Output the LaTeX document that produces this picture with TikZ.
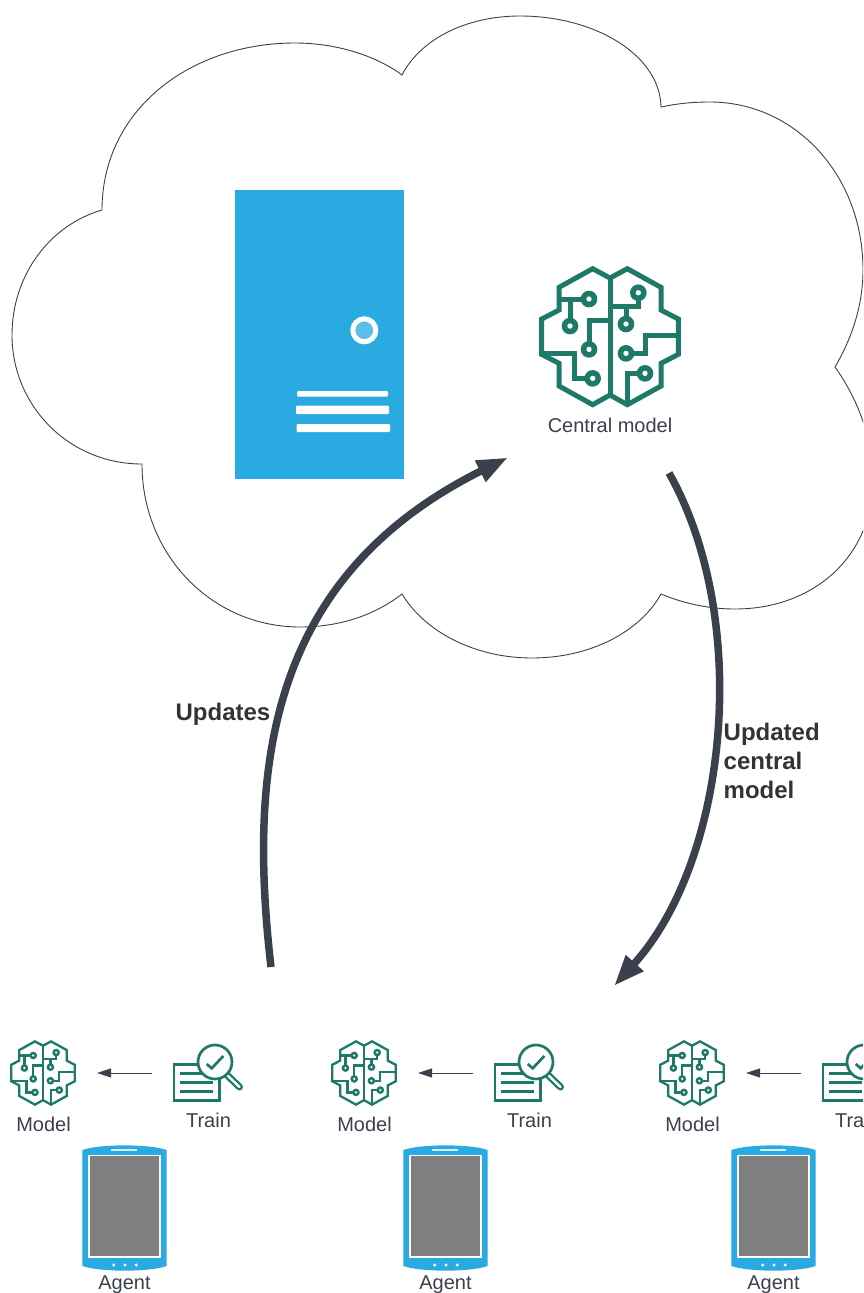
\documentclass[tikz,border=0pt]{standalone}
\usepackage{fontspec}
\setmainfont{Liberation Sans}
\usetikzlibrary{arrows.meta}
\definecolor{serverColor}{HTML}{29ABE2}
\definecolor{ledColor}{HTML}{5BBDE8}
\definecolor{brainColor}{HTML}{1D7A68}
\definecolor{arrowColor}{HTML}{3A414C}
\definecolor{screenColor}{HTML}{808080}
\tikzstyle{canvas} = [x = 1pt, y = -1pt]
\tikzstyle{cloudLine} = [color=arrowColor, line width=.9pt]
\tikzstyle{bigArrow} = [color=arrowColor, line width=7.5pt, -{Triangle[length=31pt, width=22pt]}]
\tikzstyle{smallArrow} = [color=arrowColor, line width=1pt, -{Triangle[length=14pt, width=9pt]}, shorten >=21pt, shorten <=20pt]
\tikzstyle{iconLabel} = [font=\fontsize{20}{24}\selectfont, color=arrowColor, anchor=base, inner sep=0pt]
\tikzstyle{boldLabel} = [font=\fontsize{24}{29}\selectfont\bfseries, color=black!80, anchor=base, inner sep=0pt]
\tikzstyle{iconBox} = [inner sep=0pt, outer sep=0pt]
\tikzstyle{serverBar} = [fill=white, rounded corners=1pt]
\newcommand{\brainIcon}[3]{
  \begin{scope}[shift={(#1,#2)}, x=#3pt, y=-#3pt, color=brainColor, line width=#3*15pt, line join=miter]
    \draw (-52,-204) -- (0,-176) -- (52,-204) -- (153,-148) -- (153,-80) -- (205,-53) -- (205,53) -- (153,80) -- (153,148) -- (52,204) -- (0,175) -- (-52,204) -- (-153,148) -- (-153,80) -- (-205,53) -- (-205,-53) -- (-153,-80) -- (-153,-148) -- cycle;
    \draw (0,-176) -- (0,175);
    \draw (-153,-113) -- (-63,-113);
    \draw (-120,-113) -- (-120,-32);
    \draw (0,-48) -- (-63,-48) -- (-63,38);
    \draw (-205,50) -- (-106,50) -- (-106,125) -- (-52,125);
    \draw (0,-90) -- (85,-90) -- (85,-132);
    \draw (48,-90) -- (48,-38);
    \draw (205,-5) -- (105,-5) -- (105,50) -- (48,50);
    \draw (52,204) -- (52,110) -- (105,110);
    \foreach \dotX/\dotY in {-63/-113, -120/-32, -63/38, -52/125, 85/-132, 48/-38, 48/50, 105/110} {
      \fill (\dotX,\dotY) circle (25);
      \fill [white] (\dotX,\dotY) circle (8);
    }
  \end{scope}
}
\newcommand{\agentGroup}[2]{
  \begin{scope}[xshift=#2pt]
    % model, train, arrow
    \brainIcon{43}{1073}{.155}
    \node [iconBox, minimum width=66pt, minimum height=66pt] (model#1) at (43,1073) {};
    \node [iconLabel] (modelLabel#1) at (43.5,1131) {Model};
    \begin{scope}[color=brainColor, line width=2.7pt]
      \draw (200,1064.5) -- (174,1064.5) -- (174,1100.5) -- (219.5,1100.5) -- (219.5,1070);
      \draw (180,1073.5) -- (205,1073.5);
      \draw (180,1082.7) -- (213,1082.7);
      \draw (180,1091.8) -- (213,1091.8);
      \draw [line width=7pt, line cap=round] (226,1074) -- (239.5,1087);
      \draw [white, line width=2.4pt, line cap=round] (226,1074) -- (239.5,1087);
      \draw [fill=white] (215,1062) circle (17);
      \draw (206.7,1064) -- (211.7,1068.3) -- (223.3,1056);
    \end{scope}
    \node [iconBox, minimum width=72pt, minimum height=60pt] (train#1) at (208,1073) {};
    \node [iconLabel] (trainLabel#1) at (208.5,1127) {Train};
    \draw [smallArrow] (train#1) -- (model#1);
    % agent
    \fill [serverColor] (82.3,1150) .. controls (100,1143.8) and (149,1143.8) .. (166.7,1150) -- (166.7,1266) .. controls (149,1272.2) and (100,1272.2) .. (82.3,1266) -- cycle;
    \fill [white] (88.3,1155) rectangle (161,1257.7);
    \fill [screenColor] (90,1156.3) rectangle (159.3,1256.3);
    \fill [white!80!serverColor] (111,1149) rectangle (136.7,1150.8);
    \foreach \dotX in {113.7,125,136.3} {
      \fill [white] (\dotX,1265) circle (1.6);
    }
    \node [iconLabel] (agent#1) at (124.5,1289) {Agent};
  \end{scope}
}
\begin{document}
\begin{tikzpicture}[canvas]
  \useasboundingbox (0,0) rectangle (863,1293);
  \clip (0,0) rectangle (863,1293);
  % cloud
  \draw [cloudLine] (102,210) .. controls (102,110) and (190,43) .. (295,43) .. controls (335,43) and (375,55) .. (402,75)
    .. controls (420,40) and (465,16) .. (520,16) .. controls (595,16) and (660,55) .. (661,107)
    .. controls (680,103) and (695,102) .. (710,102) .. controls (795,102) and (863,175) .. (863,270) .. controls (863,305) and (852,338) .. (835,367)
    .. controls (855,395) and (873,435) .. (873,480) .. controls (873,555) and (815,609) .. (735,609) .. controls (710,609) and (685,604) .. (661,594)
    .. controls (640,632) and (590,658) .. (532,658) .. controls (475,658) and (425,632) .. (402,594)
    .. controls (375,615) and (340,627) .. (300,627) .. controls (212,627) and (142,555) .. (142,464)
    .. controls (68,464) and (12,405) .. (12,335) .. controls (12,275) and (50,225) .. (102,210) -- cycle;
  % server
  \fill [serverColor] (235,190) rectangle (404,479);
  \draw [white, fill=ledColor, line width=5pt] (364.3,330.3) circle (11.5);
  \fill [serverBar] (297,391) rectangle (388,396.5);
  \fill [serverBar] (296,405.5) rectangle (389,414);
  \fill [serverBar] (296.5,424) rectangle (390,432);
  % central model
  \brainIcon{610}{336.7}{.3333}
  \node [iconBox, minimum width=140pt, minimum height=140pt] (centralModel) at (610,336.7) {};
  \node [iconLabel] (centralLabel) at (610,432) {Central model};
  % agents
  \agentGroup{A}{0}
  \agentGroup{B}{321}
  \agentGroup{C}{649}
  % arrows
  \coordinate (updatesStart) at (271,967);
  \coordinate (updatesEnd) at (508,457.5);
  \coordinate (broadcastStart) at (669,473);
  \coordinate (broadcastEnd) at (614,986);
  \draw [bigArrow] (updatesStart) .. controls (247,760) and (272,575) .. (updatesEnd);
  \draw [bigArrow] (broadcastStart) .. controls (752,620) and (728,860) .. (broadcastEnd);
  \node [boldLabel] (updatesLabel) at (223,720) {Updates};
  \node [boldLabel, anchor=base west] (updatedLabelA) at (723.5,740) {Updated};
  \node [boldLabel, anchor=base west] (updatedLabelB) at (723.5,769) {central};
  \node [boldLabel, anchor=base west] (updatedLabelC) at (723.5,798) {model};
\end{tikzpicture}
\end{document}
